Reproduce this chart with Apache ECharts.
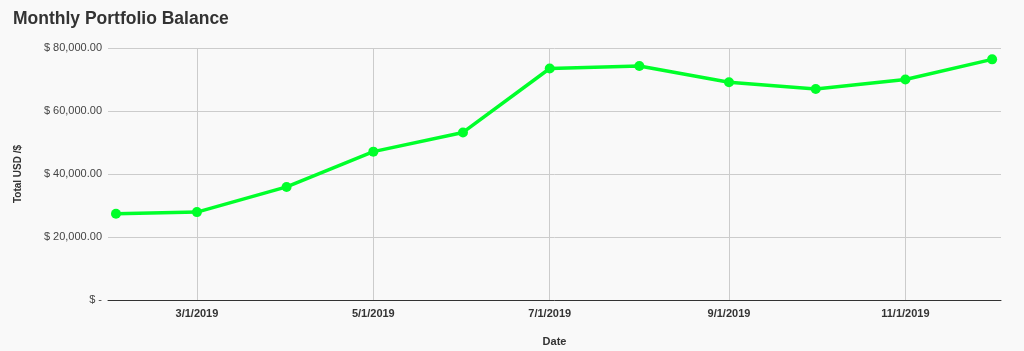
<!DOCTYPE html>
<html>
<head>
<meta charset="utf-8">
<script src="https://cdn.jsdelivr.net/npm/echarts@6/dist/echarts.min.js"></script>
<style>
html,body{margin:0;padding:0;background:#f9f9f9;}
#chart{width:1024px;height:351px;}
</style>
</head>
<body>
<div id="chart"></div>
<script>
const dates = ['2019-02-01','2019-03-01','2019-04-01','2019-05-01','2019-06-01','2019-07-01','2019-08-01','2019-09-01','2019-10-01','2019-11-01','2019-12-01'];
const balances = [27400, 27900, 35900, 47100, 53200, 73500, 74300, 69100, 67000, 70000, 76400];
const xTickDates = ['2019-03-01','2019-05-01','2019-07-01','2019-09-01','2019-11-01'];
const yTicks = [0, 20000, 40000, 60000, 80000];

function toTs(s){ const p = s.split('-').map(Number); return Date.UTC(p[0], p[1]-1, p[2]); }
const data = dates.map((d,i)=>[toTs(d), balances[i]]);
const tickVals = xTickDates.map(toTs);
const DAY = 86400000;

const chart = echarts.init(document.getElementById('chart'), null, {renderer:'canvas'});
chart.setOption({
  backgroundColor:'#f9f9f9',
  animation:false,
  title:{
    text:'Monthly Portfolio Balance',
    left:8, top:5,
    textStyle:{fontFamily:'Liberation Sans, Arial, sans-serif', fontSize:17.5, fontWeight:'bold', color:'#333'}
  },
  grid:{left:108, right:23, top:48, bottom:51, containLabel:false, outerBoundsMode:'none'},
  xAxis:{
    type:'value',
    min: toTs('2019-02-01') - 2.76*DAY,
    max: toTs('2019-12-01') + 3.07*DAY,
    name:'Date',
    nameLocation:'middle',
    nameGap:36,
    nameTextStyle:{fontFamily:'Liberation Sans, Arial, sans-serif', fontSize:11, fontWeight:'bold', color:'#333'},
    axisLine:{show:true, onZero:false, lineStyle:{color:'#333', width:1}},
    axisTick:{show:false, customValues: tickVals},
    axisLabel:{
      customValues: tickVals,
      fontFamily:'Liberation Sans, Arial, sans-serif', fontSize:11, fontWeight:'bold', color:'#333',
      margin:8,
      formatter:function(v){ const d=new Date(v); return (d.getUTCMonth()+1)+'/'+d.getUTCDate()+'/'+d.getUTCFullYear(); }
    },
    splitLine:{show:true, lineStyle:{color:'#cccccc', width:1}}
  },
  yAxis:{
    type:'value',
    min:0, max:80000, interval:20000,
    name:'Total USD /$',
    nameLocation:'middle',
    nameGap:85,
    nameTextStyle:{fontFamily:'Liberation Sans, Arial, sans-serif', fontSize:10, fontWeight:'bold', color:'#333'},
    axisLine:{show:false},
    axisTick:{show:false},
    axisLabel:{
      fontFamily:'Liberation Sans, Arial, sans-serif', fontSize:11, color:'#444', margin:6,
      formatter:function(v){ return v===0 ? '$ -' : '$ ' + v.toLocaleString('en-US',{minimumFractionDigits:2, maximumFractionDigits:2}); }
    },
    splitLine:{show:true, lineStyle:{color:'#cccccc', width:1}}
  },
  series:[{
    type:'line',
    data:data,
    symbol:'circle',
    symbolSize:10,
    lineStyle:{color:'#00ff2a', width:3.5},
    itemStyle:{color:'#00ff2a'}
  }]
});
</script>
</body>
</html>
